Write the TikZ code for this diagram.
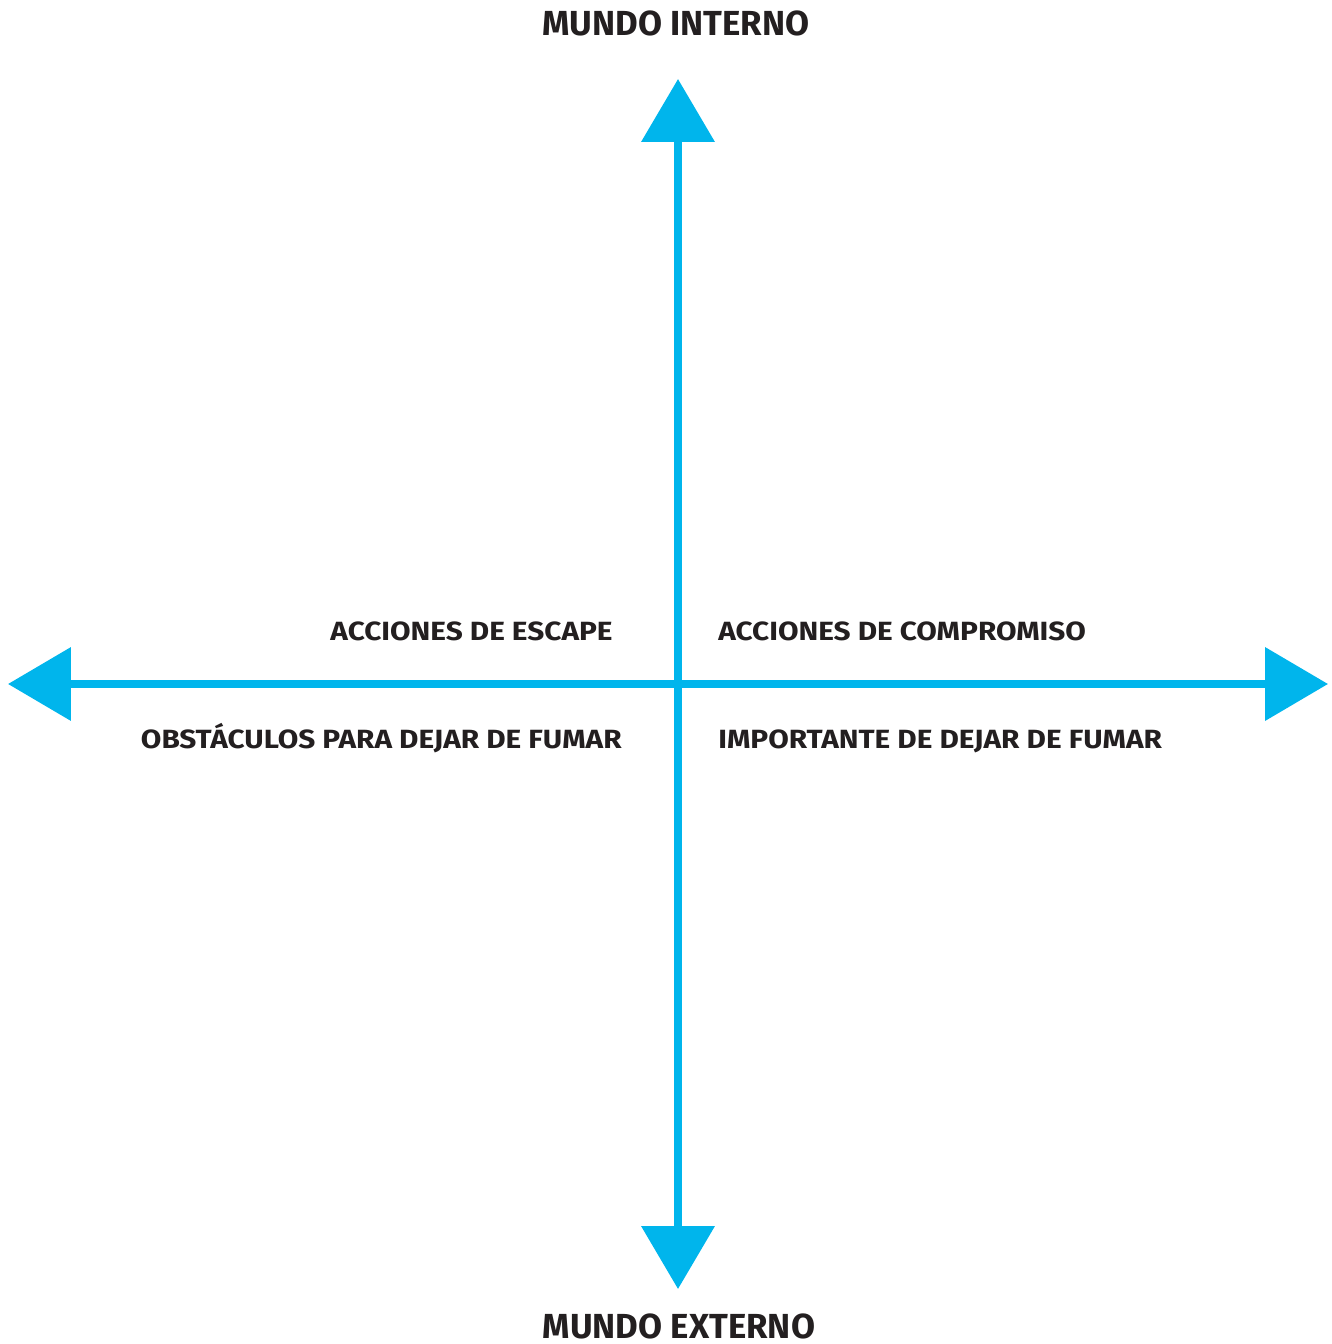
\documentclass[tikz,border=0pt]{standalone}
\usepackage{fontspec}
\setmainfont{Fira Sans}[BoldFont={Fira Sans Bold}]
\newfontfamily\fuentecuadrante{Fira Sans Bold}[FakeStretch=1.13]
\usepackage{xcolor}
\usetikzlibrary{arrows.meta,positioning}
\definecolor{ejecian}{HTML}{00B5EC}
\definecolor{tinta}{HTML}{231F20}
\tikzset{
    eje/.style={draw=ejecian, line width=7.5*0.02cm,
        {Triangle[width=1.44cm,length=1.26cm]}-{Triangle[width=1.44cm,length=1.26cm]}},
    cuadrante/.style={text=tinta, font=\fontsize{15}{18}\fuentecuadrante, inner sep=0pt},
    titulo/.style={text=tinta, font=\fontsize{19.8}{24}\selectfont\bfseries, inner sep=0pt, anchor=base},
}
\begin{document}
\begin{tikzpicture}[x=0.02cm, y=-0.02cm]
    \useasboundingbox (0,0) rectangle (1331,1344);
    \coordinate (o) at (678,684);
    \coordinate (n) at (678,79);
    \coordinate (s) at (678,1289);
    \coordinate (w) at (8,684);
    \coordinate (e) at (1328,684);

    \draw [eje] (w) -- (e);
    \draw [eje] (s) -- (n);

    \node [titulo] (interno) at (676,36) {MUNDO INTERNO};
    \node [titulo] (externo) at (679,1338) {MUNDO EXTERNO};

    \node [cuadrante, anchor=base east] (escape) at (613,640) {ACCIONES DE ESCAPE};
    \node [cuadrante, anchor=base east] (obstaculos) at (622,748) {OBSTÁCULOS PARA DEJAR DE FUMAR};
    \node [cuadrante, anchor=base west] (compromiso) at (718,640) {ACCIONES DE COMPROMISO};
    \node [cuadrante, anchor=base west] (importante) at (718,748) {IMPORTANTE DE DEJAR DE FUMAR};
\end{tikzpicture}
\end{document}
